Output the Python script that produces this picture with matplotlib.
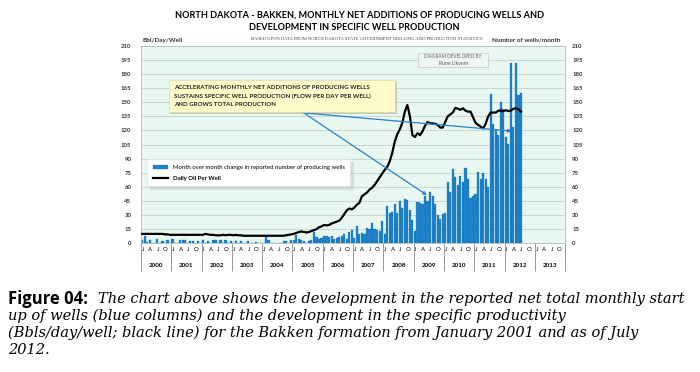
import matplotlib.pyplot as plt
from matplotlib.patches import Rectangle

# year axis
years = list(range(2000, 2014))
month_letters = ['J', 'A', 'J', 'O']

# monthly net additions of producing wells (Jan 2000 - Jul 2012)
wells_2000 = [3, 8, 1, 3, 0, 0, 5, 0, 2, 0, 3, 0]
wells_2001 = [5, 0, 0, 4, 3, 3, 0, 2, 2, 0, 2, 0]
wells_2002 = [3, 0, 2, 0, 4, 3, 0, 3, 0, 3, 0, 2]
wells_2003 = [0, 2, 0, 2, 0, 0, 2, 0, 0, 1, 0, 0]
wells_2004 = [0, 8, 3, 0, 0, 0, 0, 0, 2, 2, 0, 4]
wells_2005 = [3, 9, 5, 3, 2, 0, 2, 3, 12, 7, 5, 6]
wells_2006 = [8, 8, 7, 8, 5, 6, 7, 8, 10, 5, 12, 14]
wells_2007 = [6, 18, 10, 11, 10, 16, 15, 22, 15, 14, 13, 24]
wells_2008 = [10, 40, 32, 33, 42, 32, 45, 38, 47, 46, 35, 25]
wells_2009 = [13, 44, 43, 42, 50, 45, 55, 50, 42, 30, 26, 31]
wells_2010 = [32, 65, 55, 79, 70, 62, 72, 65, 80, 68, 48, 50]
wells_2011 = [52, 76, 68, 75, 68, 60, 159, 127, 120, 115, 150, 143]
wells_2012 = [113, 106, 192, 124, 192, 158, 160]

# daily oil per well, bbl/day/well
oil_2000 = [10, 10, 10, 10, 10, 10, 10, 10, 10, 9.5, 9.5, 9]
oil_2001 = [9, 9, 9, 9, 9, 9, 9, 9, 9, 9, 9, 9]
oil_2002 = [9, 10, 9.5, 9, 9, 8.5, 8.5, 8.5, 9, 8.5, 9, 9]
oil_2003 = [8.5, 9, 8.5, 8.5, 8, 8, 8, 8, 8, 8, 8, 8]
oil_2004 = [8, 8, 8, 8, 8, 8, 8, 8, 8, 8.5, 9, 9.5]
oil_2005 = [10, 11, 12, 12.5, 12, 11.5, 12, 13, 14, 15, 17, 18]
oil_2006 = [19.5, 19, 19.5, 21, 22, 23, 24, 27, 31, 35, 37, 36]
oil_2007 = [38, 41, 43, 50, 52, 54, 57, 59, 62, 66, 70, 74]
oil_2008 = [78, 81, 87, 96, 108, 116, 121, 128, 140, 147, 135, 115]
oil_2009 = [113, 117, 115, 119, 125, 129, 127.5, 127.5, 127, 126, 123, 123]
oil_2010 = [129, 135, 137, 139, 144, 143, 142, 143.5, 141, 140, 140, 134]
oil_2011 = [128, 126, 124, 122, 127, 135, 139, 139, 139, 141, 141, 140.5]
oil_2012 = [141.5, 140.5, 141, 143, 143.5, 142.5, 140]

wells = (wells_2000 + wells_2001 + wells_2002 + wells_2003 + wells_2004 + wells_2005 +
         wells_2006 + wells_2007 + wells_2008 + wells_2009 + wells_2010 + wells_2011 + wells_2012)
oil = (oil_2000 + oil_2001 + oil_2002 + oil_2003 + oil_2004 + oil_2005 +
       oil_2006 + oil_2007 + oil_2008 + oil_2009 + oil_2010 + oil_2011 + oil_2012)
months = [i + 0.5 for i in range(len(wells))]

plt.rcParams['font.family'] = ['Lato', 'DejaVu Sans']

fig = plt.figure(figsize=(7, 3.72), dpi=100)
ax = fig.add_axes([0.2014, 0.346, 0.606, 0.531])
ax2 = ax.twinx()

# bars on the right axis, drawn beneath the line axis
ax.set_zorder(2)
ax.patch.set_visible(False)
ax2.set_zorder(1)
ax2.patch.set_visible(True)
ax2.patch.set_facecolor('#e8f8f1')

bars = ax2.bar(months, wells, width=0.85, color='#1f84cc', edgecolor='#1668ad', linewidth=0.2,
               label='Month over month change in reported number of producing wells', zorder=3)
line, = ax.plot(months, oil, color='black', lw=1.6, label='Daily Oil Per Well', zorder=4)

for a in (ax, ax2):
    a.set_ylim(0, 210)
    a.set_xlim(0, 12 * len(years))
    a.set_yticks(range(0, 211, 15))
    for s in a.spines.values():
        s.set_color('#b8c4c0')
        s.set_linewidth(0.6)
ax2.yaxis.grid(True, color='#c4d4cc', lw=0.6, zorder=0)
ax2.set_axisbelow(True)

ax.tick_params(axis='y', length=0, pad=7, labelsize=4.3, labelcolor='#333333')
ax2.tick_params(axis='y', length=0, pad=5, labelsize=4.3, labelcolor='#333333')
for lab in ax.get_yticklabels() + ax2.get_yticklabels():
    lab.set_fontweight('bold')

# month letters as major ticks, year dividers as minor ticks
ax.set_xticks([12 * y + m + 0.7 for y in range(len(years)) for m in (0, 3, 6, 9)])
ax.set_xticklabels(month_letters * len(years))
ax.tick_params(axis='x', which='major', length=0, pad=3, labelsize=4.3)
ax.set_xticks([12 * y for y in range(len(years) + 1)], minor=True)
ax.tick_params(axis='x', which='minor', length=20, width=0.6, color='#888888')
for i, yr in enumerate(years):
    ax.text(12 * i + 6, -0.11, str(yr), transform=ax.get_xaxis_transform(),
            ha='center', va='center', fontsize=4.5, fontweight='bold')

# axis titles
fig.text(0.203, 0.890, 'Bbl/Day/Well', fontsize=4.6, fontweight='bold', color='#333333', va='center')
fig.text(0.800, 0.892, 'Number of wells/month', fontsize=4.6, fontweight='bold', color='#333333',
         va='center', ha='right')
fig.text(0.524, 0.894, 'BASED UPON DATA FROM NORTH DAKOTA STATE GOVERNMENT DRILLING AND PRODUCTION STATISTICS',
         fontsize=3.35, ha='center', va='center', color='#444444', family='Liberation Serif')

# title
fig.text(0.513, 0.960, 'NORTH DAKOTA - BAKKEN, MONTHLY NET ADDITIONS OF PRODUCING WELLS AND',
         ha='center', va='center', fontsize=6.6, fontweight='bold')
fig.text(0.506, 0.926, 'DEVELOPMENT IN SPECIFIC WELL PRODUCTION',
         ha='center', va='center', fontsize=6.6, fontweight='bold')

# legend
leg = ax.legend(handles=[bars, line], loc='upper left', bbox_to_anchor=(0.008, 0.44),
                fontsize=4.3, frameon=True, fancybox=False, shadow={'color': '#c4c4c4'},
                handlelength=2.6, handleheight=0.8, borderpad=0.9, labelspacing=0.9)
leg.get_frame().set_edgecolor('#dddddd')
leg.get_frame().set_linewidth(0.4)
leg.get_texts()[1].set_fontweight('bold')

# annotation box
ax.add_patch(Rectangle((0.071, 0.657), 0.533, 0.162, transform=ax.transAxes,
                       facecolor='#c8c8b8', edgecolor='none', zorder=5))
ax.add_patch(Rectangle((0.066, 0.664), 0.533, 0.162, transform=ax.transAxes,
                       facecolor='#fefccb', edgecolor='#d8d6a0', lw=0.4, zorder=6))
box_lines = ['ACCELERATING MONTHLY NET ADDITIONS OF PRODUCING WELLS',
             'SUSTAINS SPECIFIC WELL PRODUCTION (FLOW PER DAY PER WELL)',
             'AND GROWS TOTAL PRODUCTION']
for k, txt in enumerate(box_lines):
    ax.text(0.077, 0.789 - 0.044 * k, txt, transform=ax.transAxes, fontsize=4.4,
            fontweight='bold', va='center', ha='left', zorder=7, color='#222222')

for end in [(0.874, 0.568), (0.674, 0.244)]:
    ax.annotate('', xy=end, xytext=(0.384, 0.66), xycoords='axes fraction',
                textcoords='axes fraction', zorder=5,
                arrowprops=dict(arrowstyle='-|>', color='#2a7fcc', lw=0.9,
                                mutation_scale=5, shrinkA=0, shrinkB=0))

# credit box
ax.add_patch(Rectangle((0.653, 0.892), 0.165, 0.073, transform=ax.transAxes,
                       facecolor='#eef6f3', edgecolor='#c8c8c8', lw=0.5, zorder=5))
ax.text(0.736, 0.944, 'DIAGRAM DEVELOPED BY', transform=ax.transAxes, fontsize=3.4,
        ha='center', va='center', color='#666666', zorder=6)
ax.text(0.736, 0.912, 'Rune Likvern', transform=ax.transAxes, fontsize=3.6,
        ha='center', va='center', color='#555555', zorder=6)

# caption
fig.text(0.011, 0.196, 'Figure 04:', fontsize=12, fontweight='bold', va='center', family='Open Sans')
fig.text(0.140, 0.196, 'The chart above shows the development in the reported net total monthly start',
         fontsize=10.5, style='italic', family='DejaVu Serif', va='center')
cap_lines = ['up of wells (blue columns) and the development in the specific productivity',
             '(Bbls/day/well; black line) for the Bakken formation from January 2001 and as of July',
             '2012.']
for k, txt in enumerate(cap_lines):
    fig.text(0.011, 0.151 - 0.0455 * k, txt, fontsize=10.5, style='italic',
             family='DejaVu Serif', va='center')

fig.savefig('out.png', dpi=100)
